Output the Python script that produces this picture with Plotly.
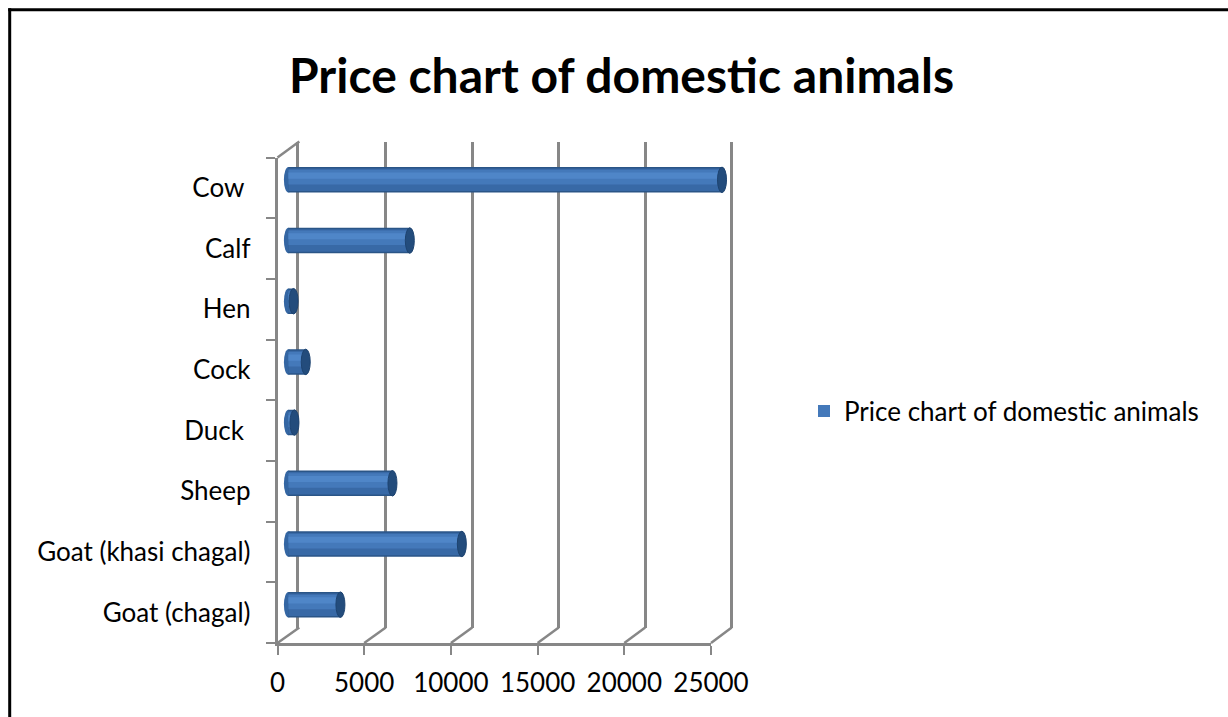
import plotly.graph_objects as go

W, H = 1228, 717

# ---- data ----
categories = ["Goat (chagal)", "Goat (khasi chagal)", "Sheep", "Duck", "Cock", "Hen", "Calf", "Cow"]
tick_labels = ["Goat (chagal)", "Goat (khasi chagal)", "Sheep", "Duck\u00a0", "Cock", "Hen", "Calf", "Cow\u00a0"]
values = [3000, 10000, 6000, 350, 1000, 300, 7000, 25000]
x_ticks = [0, 5000, 10000, 15000, 20000, 25000]
x_tick_labels = ["0", "5000", "10000", "15000", "20000", "25000"]
series_name = "Price chart of domestic animals"
title_text = "Price chart of domestic animals"

XMAX = 25000
FONT = "Lato, 'Open Sans', sans-serif"
GRID = "#878787"

# pixel boxes of the three depth planes (front axes, back wall, bar plane)
FRONT = dict(x0=277.5, x1=711.0, y0=157.5, y1=643.0)
BACK = dict(x0=299.3, x1=731.7, y0=141.5, y1=627.5)
MID = dict(x0=288.4, x1=722.0, y0=149.5, y1=635.0)


def dom_x(a, b):
    return [a / W, b / W]


def dom_y(top, bottom):
    return [1 - bottom / H, 1 - top / H]


fig = go.Figure()

carrier = dict(orientation="h", marker=dict(color="rgba(0,0,0,0)", line=dict(width=0)),
               opacity=0, showlegend=False, hoverinfo="skip")
# front axes (labels, ticks)
fig.add_trace(go.Bar(y=categories, x=values, xaxis="x", yaxis="y", **carrier))
# back wall
fig.add_trace(go.Bar(y=categories, x=values, xaxis="x2", yaxis="y2", **carrier))

# cylinder bars in the middle plane (layered for shading)
layers = [
    (0.42, 0.0, "#2A5587", False),
    (0.37, 0.0, "#3869A6", False),
    (0.24, 0.045, "#4479BA", True),
    (0.10, 0.07, "#4F86C8", False),
]
for w, d, col, leg in layers:
    fig.add_trace(go.Bar(
        y=categories, x=values, orientation="h", xaxis="x3", yaxis="y3",
        width=w, offset=-w / 2 + d, marker=dict(color=col, line=dict(width=0)),
        name=series_name, showlegend=leg, hoverinfo="x+y",
    ))

scale_mid = (MID["x1"] - MID["x0"]) / XMAX
pad = 14
mid_range = [-pad / scale_mid, XMAX + pad / scale_mid]
cap_w = 4.5 / scale_mid
bar_half = 0.21

shapes = []
for i, v in enumerate(values):
    # rounded start of the cylinder
    shapes.append(dict(type="circle", xref="x3", yref="y3", layer="below",
                       x0=-cap_w, x1=cap_w, y0=i - bar_half, y1=i + bar_half,
                       fillcolor="#3466A3", line=dict(width=0)))
    # end cap
    shapes.append(dict(type="circle", xref="x3", yref="y3", layer="above",
                       x0=v - cap_w, x1=v + cap_w, y0=i - bar_half, y1=i + bar_half,
                       fillcolor="#234C7C", line=dict(color="#1D4370", width=1)))

# floor diagonals connecting front ticks to back gridlines
fs = (FRONT["x1"] - FRONT["x0"]) / XMAX
bs = (BACK["x1"] - BACK["x0"]) / XMAX
for t in x_ticks:
    fx = FRONT["x0"] + t * fs
    bx = BACK["x0"] + t * bs
    shapes.append(dict(type="line", xref="paper", yref="paper",
                       x0=fx / W, y0=1 - FRONT["y1"] / H, x1=bx / W, y1=1 - BACK["y1"] / H,
                       line=dict(color=GRID, width=2.5)))
# top-left diagonal
shapes.append(dict(type="line", xref="paper", yref="paper",
                   x0=FRONT["x0"] / W, y0=1 - FRONT["y0"] / H,
                   x1=BACK["x0"] / W, y1=1 - BACK["y0"] / H,
                   line=dict(color=GRID, width=2.5)))
# outer frame (top and left edges visible)
shapes.append(dict(type="line", xref="paper", yref="paper",
                   x0=8.2 / W, y0=1 - 9.7 / H, x1=1, y1=1 - 9.7 / H,
                   line=dict(color="black", width=3)))
shapes.append(dict(type="line", xref="paper", yref="paper",
                   x0=9.7 / W, y0=0, x1=9.7 / W, y1=1 - 8.2 / H,
                   line=dict(color="black", width=3)))

tickfont = dict(family=FONT, size=26, color="black")

# back axis: extend a few px beyond 25000 so the last gridline is drawn
bpad = 4
b_ext = bpad / bs

fig.update_layout(
    template="none",
    width=W, height=H, autosize=False,
    margin=dict(l=0, r=0, t=0, b=0, pad=0, autoexpand=False),
    paper_bgcolor="white", plot_bgcolor="rgba(0,0,0,0)",
    barmode="overlay",
    title=dict(text=title_text, x=621.5 / W, xanchor="center", y=1 - 76 / H, yanchor="middle",
               font=dict(family=FONT, size=48, color="black", weight="bold")),
    xaxis=dict(domain=dom_x(FRONT["x0"], FRONT["x1"]), range=[0, XMAX], anchor="y",
               automargin=False,
               tickmode="array", tickvals=x_ticks, ticktext=x_tick_labels,
               ticks="outside", ticklen=9, tickwidth=2, tickcolor=GRID,
               showline=True, linecolor=GRID, linewidth=2.5, showgrid=False, zeroline=False,
               tickfont=tickfont, ticklabelstandoff=6),
    yaxis=dict(domain=dom_y(FRONT["y0"], FRONT["y1"]), range=[-0.5, 7.5], anchor="x",
               automargin=False,
               type="category", categoryorder="array", categoryarray=categories,
               tickmode="array", tickvals=categories, ticktext=tick_labels,
               ticks="outside", tickson="boundaries", ticklen=9, tickwidth=2, tickcolor=GRID,
               showline=True, linecolor=GRID, linewidth=2.5, showgrid=False, zeroline=False,
               tickfont=tickfont, ticklabelstandoff=19),
    xaxis2=dict(domain=dom_x(BACK["x0"], BACK["x1"] + bpad), range=[0, XMAX + b_ext], anchor="y2",
                automargin=False,
                tickmode="array", tickvals=x_ticks, showticklabels=False, ticks="",
                showgrid=True, gridcolor=GRID, gridwidth=3, zeroline=False, showline=False),
    yaxis2=dict(domain=dom_y(BACK["y0"], BACK["y1"]), range=[-0.5, 7.5], anchor="x2",
                automargin=False,
                type="category", categoryorder="array", categoryarray=categories,
                showticklabels=False, ticks="", showgrid=False, zeroline=False,
                showline=True, linecolor=GRID, linewidth=3),
    xaxis3=dict(domain=dom_x(MID["x0"] - pad, MID["x1"] + pad), range=mid_range, anchor="y3",
                automargin=False, visible=False, showgrid=False, zeroline=False),
    yaxis3=dict(domain=dom_y(MID["y0"], MID["y1"]), range=[-0.5, 7.5], anchor="x3",
                automargin=False,
                type="category", categoryorder="array", categoryarray=categories,
                visible=False, showgrid=False, zeroline=False),
    legend=dict(x=804 / W, xanchor="left", y=1 - 411 / H, yanchor="middle",
                font=dict(family=FONT, size=26, color="black"), bgcolor="rgba(0,0,0,0)",
                borderwidth=0),
    shapes=shapes,
)

fig.write_html("out.html")
